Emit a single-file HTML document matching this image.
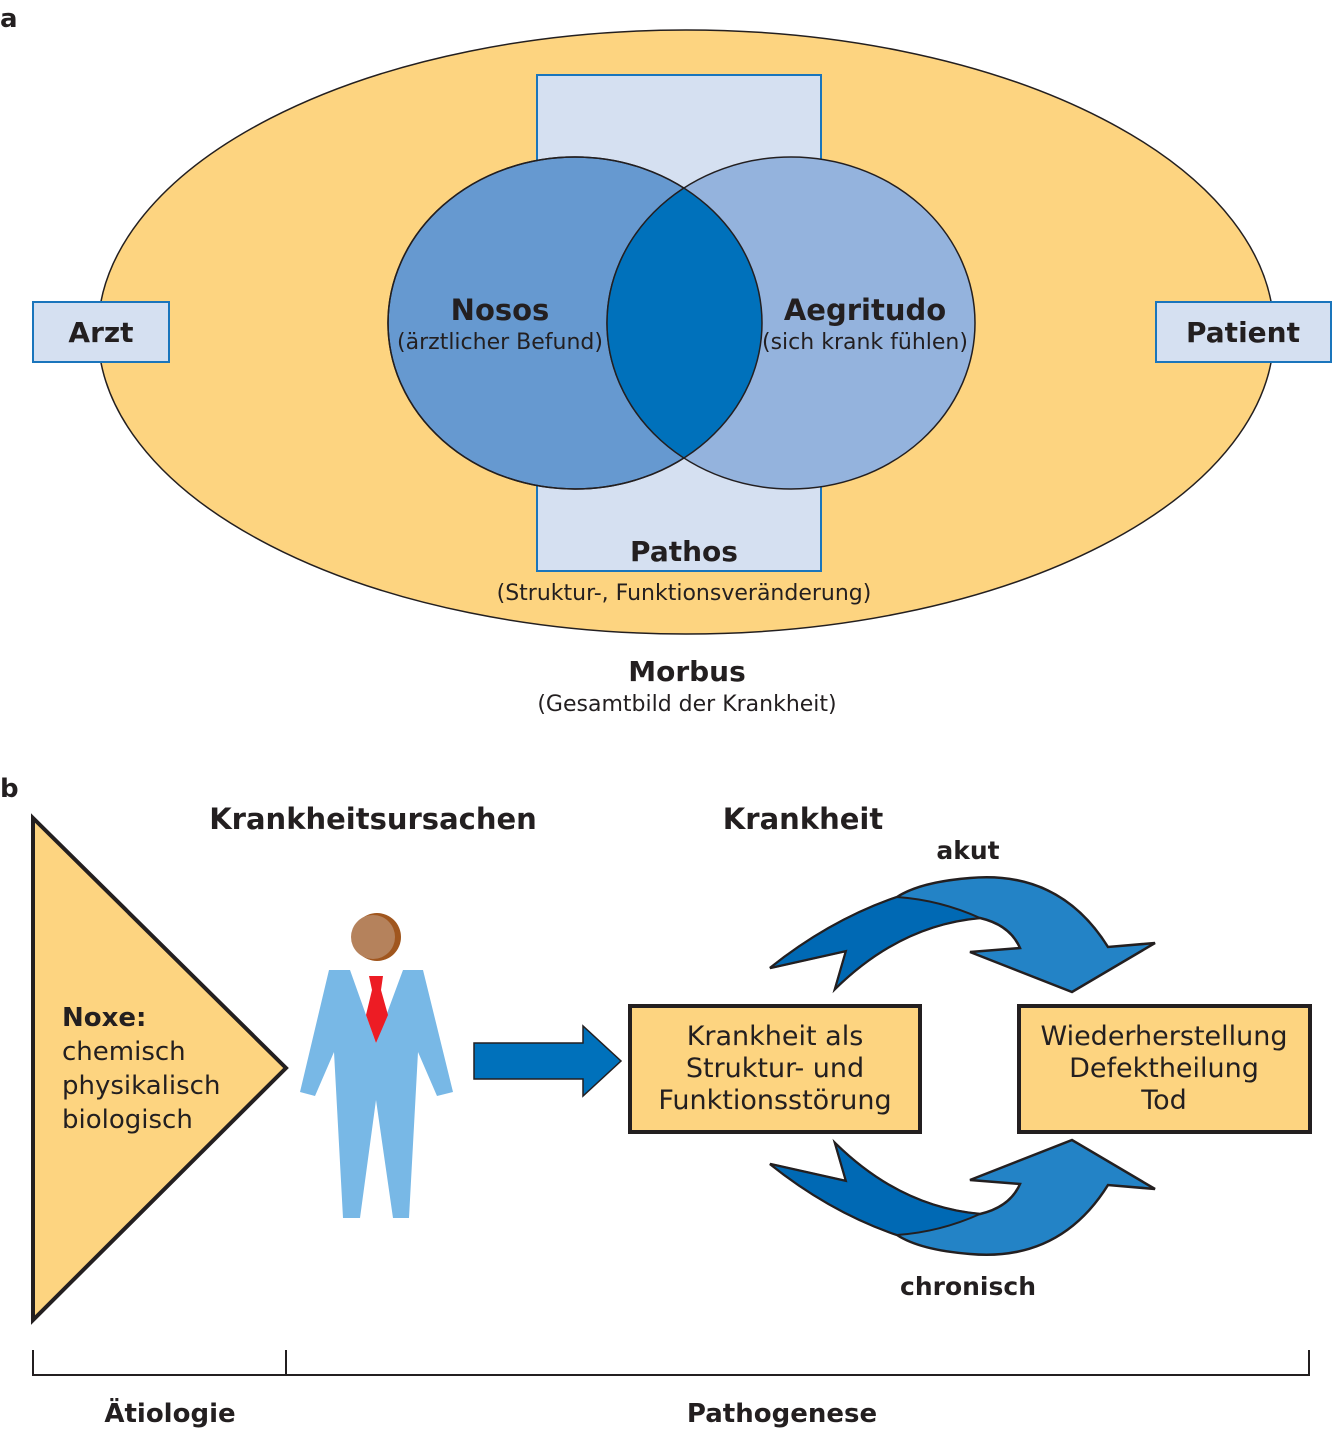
<!DOCTYPE html>
<html><head><meta charset="utf-8"><style>
body{margin:0;background:#fff}
svg text{font-family:"DejaVu Sans","Liberation Sans",sans-serif;fill:#231f20}
</style></head><body>
<svg width="1333" height="1429" viewBox="0 0 1333 1429" xmlns="http://www.w3.org/2000/svg">
<text x="0" y="27" font-size="26" font-weight="bold">a</text>
<ellipse cx="686" cy="332" rx="588" ry="302" fill="#fdd480" stroke="#231f20" stroke-width="1.5"/>
<rect x="537" y="75" width="284" height="496" fill="#d5e0f1" stroke="#1a75bc" stroke-width="2"/>
<ellipse cx="575" cy="323" rx="187" ry="166" fill="#6699d0" stroke="#231f20" stroke-width="1.5"/>
<ellipse cx="791" cy="323" rx="184" ry="166" fill="#94b3dd" stroke="#231f20" stroke-width="1.5"/>
<clipPath id="c1"><ellipse cx="575" cy="323" rx="187" ry="166"/></clipPath>
<ellipse cx="791" cy="323" rx="184" ry="166" fill="#0071bb" stroke="#231f20" stroke-width="1.5" clip-path="url(#c1)"/>
<ellipse cx="575" cy="323" rx="187" ry="166" fill="none" stroke="#231f20" stroke-width="1.5"/>
<rect x="33" y="302" width="136" height="60" fill="#d5e0f1" stroke="#1a75bc" stroke-width="2"/>
<rect x="1156" y="302" width="175" height="60" fill="#d5e0f1" stroke="#1a75bc" stroke-width="2"/>
<text x="101" y="342" font-size="28" font-weight="bold" text-anchor="middle">Arzt</text>
<text x="1243" y="342" font-size="28" font-weight="bold" text-anchor="middle">Patient</text>
<text x="500" y="320" font-size="29" font-weight="bold" text-anchor="middle">Nosos</text>
<text x="500" y="349" font-size="22" text-anchor="middle">(ärztlicher Befund)</text>
<text x="865" y="320" font-size="29" font-weight="bold" text-anchor="middle">Aegritudo</text>
<text x="865" y="349" font-size="22" text-anchor="middle">(sich krank fühlen)</text>
<text x="684" y="561" font-size="28" font-weight="bold" text-anchor="middle">Pathos</text>
<text x="684" y="600" font-size="22" text-anchor="middle">(Struktur-, Funktionsveränderung)</text>
<text x="687" y="681" font-size="28" font-weight="bold" text-anchor="middle">Morbus</text>
<text x="687" y="711" font-size="22" text-anchor="middle">(Gesamtbild der Krankheit)</text>

<text x="0" y="797" font-size="26" font-weight="bold">b</text>
<text x="373" y="829" font-size="29" font-weight="bold" text-anchor="middle">Krankheitsursachen</text>
<text x="803" y="829" font-size="29" font-weight="bold" text-anchor="middle">Krankheit</text>
<text x="968" y="859" font-size="25" font-weight="bold" text-anchor="middle">akut</text>
<text x="968" y="1295" font-size="25" font-weight="bold" text-anchor="middle">chronisch</text>
<polygon points="33,818 286,1068 33,1320" fill="#fdd480" stroke="#231f20" stroke-width="4"/>
<text font-size="26"><tspan x="62" y="1026" font-weight="bold">Noxe:</tspan><tspan x="62" y="1060">chemisch</tspan><tspan x="62" y="1094">physikalisch</tspan><tspan x="62" y="1128">biologisch</tspan></text>
<circle cx="377" cy="937" r="24" fill="#a0561e"/>
<circle cx="373" cy="937" r="22" fill="#b5825c"/>
<polygon points="329,970 350,970 376,1043 403,970 423,970 453,1092 437,1096 418,1052 409,1218 393,1218 376,1100 360,1218 343,1218 334,1052 315,1096 300,1092" fill="#78b8e6"/>
<polygon points="369,976 383,976 381,990 388,1015 376,1043 366,1015 372,990" fill="#ed1c24"/>
<polygon points="474,1043 583,1043 583,1026 621,1061 583,1096 583,1079 474,1079" fill="#0071bb" stroke="#231f20" stroke-width="1.5"/>
<rect x="630" y="1006" width="290" height="126" fill="#fdd480" stroke="#231f20" stroke-width="4"/>
<rect x="1019" y="1006" width="291" height="126" fill="#fdd480" stroke="#231f20" stroke-width="4"/>
<text font-size="27" text-anchor="middle"><tspan x="775" y="1045">Krankheit als</tspan><tspan x="775" y="1077">Struktur- und</tspan><tspan x="775" y="1109">Funktionsstörung</tspan></text>
<text font-size="27" text-anchor="middle"><tspan x="1164" y="1045">Wiederherstellung</tspan><tspan x="1164" y="1077">Defektheilung</tspan><tspan x="1164" y="1109">Tod</tspan></text>
<g id="arr">
<path d="M770,968 L846,951 L835,989 Q900,925 980,918 Q1010,925 1020,948 L970,952 L1072,992 L1155,943 L1108,947 Q1060,870 970,878 Q920,882 897,897 Q830,920 770,968 Z" fill="#2383c6" stroke="#231f20" stroke-width="2.5"/>
<path d="M770,968 L846,951 L835,989 Q900,925 980,918 Q940,900 897,897 Q830,920 770,968 Z" fill="#0069b4" stroke="#231f20" stroke-width="2"/>
</g>
<use href="#arr" transform="translate(0,2132) scale(1,-1)"/>
<path d="M33,1350 V1375 H1309 V1350 M286,1350 V1375" fill="none" stroke="#231f20" stroke-width="2"/>
<text x="170" y="1422" font-size="26" font-weight="bold" text-anchor="middle">Ätiologie</text>
<text x="782" y="1422" font-size="26" font-weight="bold" text-anchor="middle">Pathogenese</text>
</svg>
</body></html>
